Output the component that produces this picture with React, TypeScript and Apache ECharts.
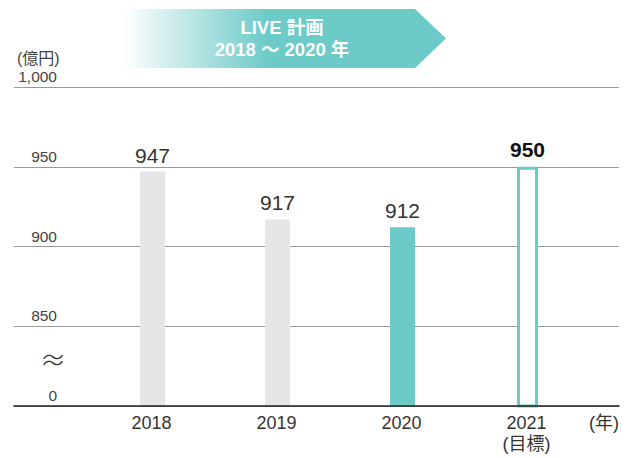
import React, { useEffect, useRef } from "react";
import * as echarts from "echarts";

// ---- data ----
const categories = ["2018", "2019", "2020", "2021\n(目標)"];
const actualValues = [947, 917, 912, null]; // 2018-2020 results
const targetValues = [null, null, null, 950]; // 2021 target
const highlightIndex = 2; // 2020 bar in teal
const yTickValues = [800, 850, 900, 950, 1000]; // 800 is drawn as "0" (broken axis)
const yUnit = "(億円)";
const xUnit = "(年)";
const bannerLines = ["LIVE 計画", "2018 ～ 2020 年"];
const breakMark = "≈";

const TEAL = "#6ccac8";
const GRAY = "#e5e6e8";
const FONT = "'Liberation Sans', 'Noto Sans CJK JP', sans-serif";

export default function App() {
  const ref = useRef<HTMLDivElement>(null);

  useEffect(() => {
    if (!ref.current) return;
    const chart = echarts.init(ref.current, undefined, { renderer: "svg" });

    const yMin = yTickValues[0];
    const yMax = yTickValues[yTickValues.length - 1];
    const yStep = yTickValues[1] - yTickValues[0];

    const bannerTexts = bannerLines.map((line, i) => ({
      type: "text",
      x: 282,
      y: 27.8 + i * 22,
      style: {
        text: line,
        fill: "#fff",
        fontFamily: FONT,
        fontSize: 18.5,
        fontWeight: "bold",
        lineHeight: 19,
        align: "center",
        verticalAlign: "middle",
      },
      z: 2,
    }));

    const option: any = {
      animation: false,
      backgroundColor: "#fff",
      textStyle: { fontFamily: FONT },
      grid: [
        { left: 14, right: 8, top: 87, bottom: 52 },
        { left: 89, right: 38, top: 87, bottom: 52 },
      ],
      xAxis: [
        {
          gridIndex: 0,
          type: "category",
          data: [""],
          axisLine: { show: true, lineStyle: { color: "#222", width: 1.5 } },
          axisTick: { show: false },
          axisLabel: { show: false },
          z: 10,
        },
        {
          gridIndex: 1,
          type: "category",
          data: categories,
          axisLine: { show: false },
          axisTick: { show: false },
          axisLabel: {
            fontFamily: FONT,
            fontSize: 18,
            lineHeight: 21,
            color: "#333",
            margin: 6,
          },
          name: xUnit,
          nameLocation: "end",
          nameGap: 0,
          nameTextStyle: {
            fontFamily: FONT,
            fontSize: 18,
            lineHeight: 21,
            color: "#333",
            align: "left",
            verticalAlign: "top",
            padding: [6, 0, 0, 0],
          },
        },
      ],
      yAxis: [
        {
          gridIndex: 0,
          type: "value",
          min: yMin,
          max: yMax,
          interval: yStep,
          axisLine: { show: false },
          axisTick: { show: false },
          axisLabel: {
            inside: true,
            align: "right",
            verticalAlign: "bottom",
            margin: 43,
            fontFamily: FONT,
            fontSize: 15.5,
            lineHeight: 17,
            padding: [0, 0, 2, 0],
            color: "#444",
            formatter: (v: number) =>
              v === yMin ? "0" : v.toLocaleString("en-US"),
          },
          splitLine: { show: true, lineStyle: { color: "#9a9a9a", width: 1 } },
          name: yUnit,
          nameLocation: "end",
          nameGap: 21,
          nameTextStyle: {
            fontFamily: FONT,
            fontSize: 16,
            color: "#444",
            align: "left",
            verticalAlign: "bottom",
            padding: [0, 0, 0, 3],
          },
        },
        {
          gridIndex: 1,
          type: "value",
          min: yMin,
          max: yMax,
          interval: yStep,
          show: false,
        },
      ],
      series: [
        {
          type: "bar",
          xAxisIndex: 1,
          yAxisIndex: 1,
          barWidth: 25,
          barGap: "-92%",
          data: actualValues.map((v, i) =>
            v == null
              ? "-"
              : {
                  value: v,
                  itemStyle: { color: i === highlightIndex ? TEAL : GRAY },
                }
          ),
          label: {
            show: true,
            position: "top",
            distance: 6,
            fontFamily: FONT,
            fontSize: 21,
            color: "#333",
          },
        },
        {
          type: "bar",
          xAxisIndex: 1,
          yAxisIndex: 1,
          barWidth: 21,
          barGap: "-92%",
          data: targetValues.map((v) => (v == null ? "-" : v)),
          itemStyle: { color: "#fff", borderColor: TEAL, borderWidth: 3 },
          label: {
            show: true,
            position: "top",
            distance: 7,
            fontFamily: FONT,
            fontSize: 21,
            fontWeight: "bold",
            color: "#111",
          },
        },
      ],
      graphic: [
        {
          type: "polygon",
          shape: {
            points: [
              [123, 9],
              [415, 9],
              [446, 38.5],
              [415, 68],
              [123, 68],
            ],
          },
          style: {
            fill: new echarts.graphic.LinearGradient(0, 0, 1, 0, [
              { offset: 0, color: "rgba(255,255,255,1)" },
              { offset: 0.45, color: TEAL },
              { offset: 1, color: TEAL },
            ]),
          },
          z: 1,
        },
        ...bannerTexts,
        {
          type: "text",
          x: 53,
          y: 358,
          style: {
            text: breakMark,
            fill: "#333",
            fontFamily: "'Noto Sans CJK JP', sans-serif",
            fontSize: 26,
            fontWeight: 300,
            align: "center",
            verticalAlign: "middle",
          },
        },
      ],
    };

    chart.setOption(option);
    return () => chart.dispose();
  }, []);

  return (
    <div
      ref={ref}
      style={{ position: "fixed", left: 0, top: 0, width: 627, height: 458 }}
    />
  );
}
